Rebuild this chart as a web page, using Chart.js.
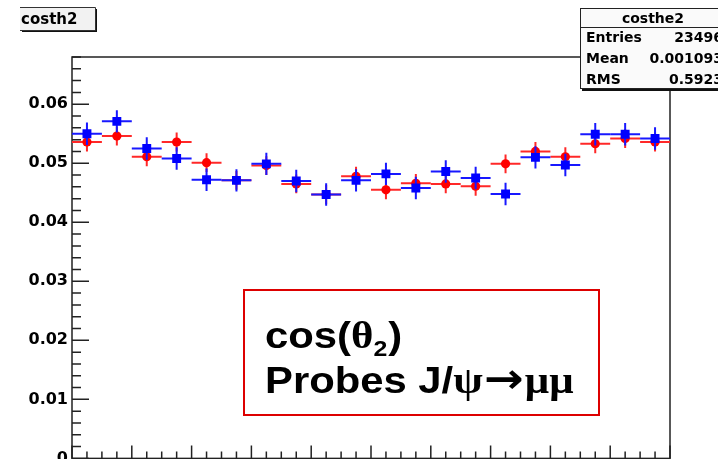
<!DOCTYPE html>
<html><head><meta charset="utf-8">
<script src="https://cdn.jsdelivr.net/npm/chart.js@4.4.0/dist/chart.umd.min.js"></script>
<style>
html,body{margin:0;padding:0;background:#fff;overflow:hidden;}
#wrap{position:relative;width:718px;height:459px;overflow:hidden;background:#fff;}
canvas{display:block;}
</style></head><body>
<div id="wrap"><canvas id="c" width="718" height="472" style="width:718px;height:472px"></canvas></div>
<script>
// ---- data ----
const binCenters = [-0.95,-0.85,-0.75,-0.65,-0.55,-0.45,-0.35,-0.25,-0.15,-0.05,0.05,0.15,0.25,0.35,0.45,0.55,0.65,0.75,0.85,0.95];
const binHalfWidth = 0.05;
const redValues  = [0.0536,0.0546,0.0511,0.0536,0.0501,0.0471,0.0496,0.0465,0.0447,0.0478,0.0455,0.0466,0.0465,0.0461,0.0499,0.0520,0.0511,0.0533,0.0542,0.0536];
const redErrors  = [0.0016,0.0016,0.0016,0.0016,0.0016,0.0016,0.0016,0.0016,0.0016,0.0016,0.0016,0.0016,0.0016,0.0016,0.0016,0.0016,0.0016,0.0016,0.0016,0.0016];
const blueValues = [0.0550,0.0571,0.0525,0.0508,0.0472,0.0471,0.0499,0.0470,0.0447,0.0471,0.0482,0.0458,0.0486,0.0475,0.0448,0.0510,0.0497,0.0549,0.0549,0.0542];
const blueErrors = [0.0019,0.0019,0.0019,0.0019,0.0019,0.0019,0.0019,0.0019,0.0019,0.0019,0.0019,0.0019,0.0019,0.0019,0.0019,0.0019,0.0019,0.0019,0.0019,0.0019];
const yMin = 0, yMax = 0.068, yStep = 0.01;
const histTitle = 'costh2';
const statsTitle = 'costhe2';
const statsLabels = ['Entries','Mean','RMS'];
const statsValues = ['23496','0.001093','0.5923'];

const toPoints = vals => vals.map((v,i)=>({x:binCenters[i], y:v}));

const errorBars = {
  id:'errorBars',
  beforeDatasetDraw(chart,args){
    const ds = chart.data.datasets[args.index];
    const xs = chart.scales.x, ys = chart.scales.y, ctx = chart.ctx;
    ctx.save();
    ctx.strokeStyle = ds.errColor; ctx.lineWidth = 2;
    ds.data.forEach((p,i)=>{
      const px = xs.getPixelForValue(p.x), py = ys.getPixelForValue(p.y);
      const x1 = xs.getPixelForValue(p.x-binHalfWidth), x2 = xs.getPixelForValue(p.x+binHalfWidth);
      const y1 = ys.getPixelForValue(p.y-ds.errors[i]), y2 = ys.getPixelForValue(p.y+ds.errors[i]);
      ctx.beginPath();
      ctx.moveTo(x1,py); ctx.lineTo(x2,py);
      ctx.moveTo(px,y1); ctx.lineTo(px,y2);
      ctx.stroke();
    });
    ctx.restore();
  }
};

const frame = {
  id:'frame',
  beforeDatasetsDraw(chart){
    const {ctx, chartArea:a, scales:{x,y}} = chart;
    ctx.save();
    ctx.strokeStyle='#222'; ctx.lineWidth=1.5;
    ctx.strokeRect(a.left,a.top,a.right-a.left,a.bottom-a.top);
    ctx.beginPath();
    const nY = Math.round((yMax-yMin)/0.002);
    for(let k=0;k<=nY;k++){
      const py = y.getPixelForValue(yMin+k*0.002);
      const len = (k%5===0)?17:9;
      ctx.moveTo(a.left,py); ctx.lineTo(a.left+len,py);
    }
    for(let k=0;k<=40;k++){
      const px = x.getPixelForValue(-1+k*0.05);
      const len = (k%4===0)?13:7;
      ctx.moveTo(px,a.bottom); ctx.lineTo(px,a.bottom-len);
    }
    ctx.stroke();
    ctx.restore();
  }
};

const overlays = {
  id:'overlays',
  afterDraw(chart){
    const ctx = chart.ctx;
    ctx.save();
    // title box
    ctx.fillStyle='#f2f2f2'; ctx.fillRect(20,7,75,23);
    ctx.fillStyle='#111'; ctx.fillRect(95,9,2,23); ctx.fillRect(22,30,75,2);
    ctx.strokeStyle='#333'; ctx.lineWidth=1;
    ctx.beginPath(); ctx.moveTo(20,7.5); ctx.lineTo(95.5,7.5); ctx.lineTo(95.5,30.5); ctx.lineTo(20,30.5); ctx.stroke();
    ctx.fillStyle='#000'; ctx.font='bold 15px "DejaVu Sans"'; ctx.textBaseline='alphabetic'; ctx.textAlign='left';
    ctx.fillText(histTitle,21,24);
    // stats box
    ctx.fillStyle='#fafafa'; ctx.fillRect(580,8,150,81);
    ctx.fillStyle='#111'; ctx.fillRect(582,89,150,2);
    ctx.strokeStyle='#222'; ctx.lineWidth=1;
    ctx.strokeRect(580.5,8.5,150,80);
    ctx.beginPath(); ctx.moveTo(580,27.5); ctx.lineTo(730,27.5); ctx.stroke();
    ctx.fillStyle='#000'; ctx.font='bold 14px "DejaVu Sans"';
    ctx.textAlign='center'; ctx.fillText(statsTitle,653,23);
    const rowsY=[42,63,84];
    statsLabels.forEach((l,i)=>{
      ctx.textAlign='left'; ctx.fillText(l,586,rowsY[i]);
      ctx.textAlign='right'; ctx.fillText(statsValues[i],723,rowsY[i]);
    });
    // annotation box
    ctx.fillStyle='#fff'; ctx.fillRect(244,290,355,125);
    ctx.strokeStyle='#dd0000'; ctx.lineWidth=2; ctx.strokeRect(244,290,355,125);
    ctx.fillStyle='#000'; ctx.textAlign='left';
    const sx = 1.13;
    ctx.save();
    ctx.translate(265,0); ctx.scale(sx,1);
    const sans='bold 37px "Liberation Sans"', serif='bold 38px "Liberation Serif"';
    let x=0; const b1=348;
    const put=(t,f,yy,gap)=>{ctx.font=f; ctx.fillText(t,x,yy); x+=ctx.measureText(t).width+(gap||0);};
    put('cos(',sans,b1); put('θ',serif,b1); put('2','bold 22px "Liberation Sans"',b1+8,1); put(')',sans,b1);
    x=0; const b2=393;
    put('Probes J/',sans,b2); put('ψ',serif,b2,1); put('→','bold 42px "DejaVu Sans"',b2,1); put('μμ',serif,b2);
    ctx.restore();
    ctx.restore();
  }
};

new Chart(document.getElementById('c'),{
  type:'scatter',
  data:{datasets:[
    {label:'blue',data:toPoints(blueValues),errors:blueErrors,errColor:'#1818ff',pointStyle:'rect',pointRadius:6.3,pointHoverRadius:6.3,backgroundColor:'#0000ff',borderColor:'#0000ff',borderWidth:0},
    {label:'red',data:toPoints(redValues),errors:redErrors,errColor:'#ff2828',pointStyle:'circle',pointRadius:4.6,pointHoverRadius:4.6,backgroundColor:'#ff0000',borderColor:'#ff0000',borderWidth:0}
  ]},
  options:{
    responsive:false, animation:false, devicePixelRatio:1,
    layout:{padding:{left:0,right:48,top:57,bottom:10}},
    plugins:{legend:{display:false},tooltip:{enabled:false}},
    events:[],
    scales:{
      x:{type:'linear',min:-1,max:1,display:false},
      y:{type:'linear',min:yMin,max:yMax,
         grid:{display:false,drawTicks:false}, border:{display:false},
         ticks:{stepSize:yStep,includeBounds:false,padding:4,color:'#000',
                font:{family:'DejaVu Sans',size:16,weight:'bold'},
                callback:v=> v===0?'0':v.toFixed(2)},
         afterFit:s=>{s.width=72;}}
    }
  },
  plugins:[frame,errorBars,overlays]
});
</script>
</body></html>
